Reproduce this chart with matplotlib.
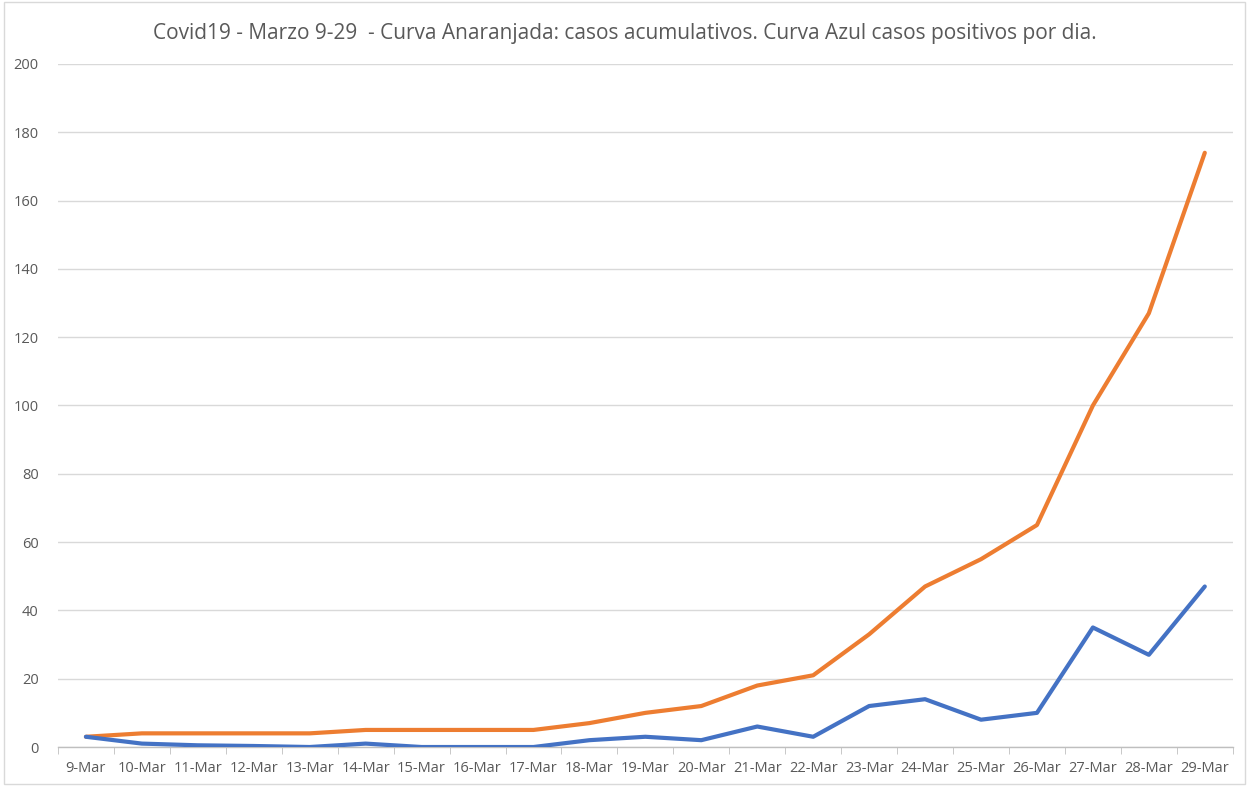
import numpy as np
import matplotlib.pyplot as plt
from matplotlib.patches import Rectangle

plt.rcParams['font.family'] = ['Liberation Sans Narrow', 'Open Sans', 'DejaVu Sans']

# data
days = ['9-Mar', '10-Mar', '11-Mar', '12-Mar', '13-Mar', '14-Mar', '15-Mar', '16-Mar',
        '17-Mar', '18-Mar', '19-Mar', '20-Mar', '21-Mar', '22-Mar', '23-Mar', '24-Mar',
        '25-Mar', '26-Mar', '27-Mar', '28-Mar', '29-Mar']
acumulados = [3, 4, 4, 4, 4, 5, 5, 5, 5, 7, 10, 12, 18, 21, 33, 47, 55, 65, 100, 127, 174]
por_dia = [3, 1, 0.5, 0.3, 0, 1, 0, 0, 0, 2, 3, 2, 6, 3, 12, 14, 8, 10, 35, 27, 47]

fig = plt.figure(figsize=(12.49, 7.86), dpi=100)
ax = fig.add_axes([0.0464, 0.0496, 0.9406, 0.869])

x = np.arange(len(days))
ax.plot(x, acumulados, color='#ED7D31', linewidth=3, solid_capstyle='round', zorder=3)
ax.plot(x, por_dia, color='#4472C4', linewidth=3, solid_capstyle='round', zorder=3)

ax.set_xlim(-0.5, len(days) - 0.5)
ax.set_ylim(0, 200)
ax.set_yticks(np.arange(0, 201, 20))
ax.set_xticks(x)
ax.set_xticklabels(days)
ax.set_xticks(np.arange(-0.5, len(days), 1), minor=True)

ax.grid(axis='y', color='#d9d9d9', linewidth=1)
ax.set_axisbelow(True)
for s in ['top', 'right', 'left']:
    ax.spines[s].set_visible(False)
ax.spines['bottom'].set_color('#bfbfbf')
ax.spines['bottom'].set_linewidth(1)

ax.tick_params(axis='x', which='major', length=0, pad=10, labelsize=10.5, labelcolor='#595959')
ax.tick_params(axis='x', which='minor', length=5, color='#bfbfbf')
ax.tick_params(axis='y', length=0, pad=14, labelsize=10.5, labelcolor='#595959')

fig.text(0.5, 0.958, 'Covid19 - Marzo 9-29  - Curva Anaranjada: casos acumulativos. Curva Azul casos positivos por dia.',
         ha='center', va='center', fontsize=15, color='#595959')

fig.patches.append(Rectangle((0.003, 0.003), 0.994, 0.994, transform=fig.transFigure,
                             fill=False, edgecolor='#d9d9d9', linewidth=1))

fig.savefig('out.png', dpi=100)
